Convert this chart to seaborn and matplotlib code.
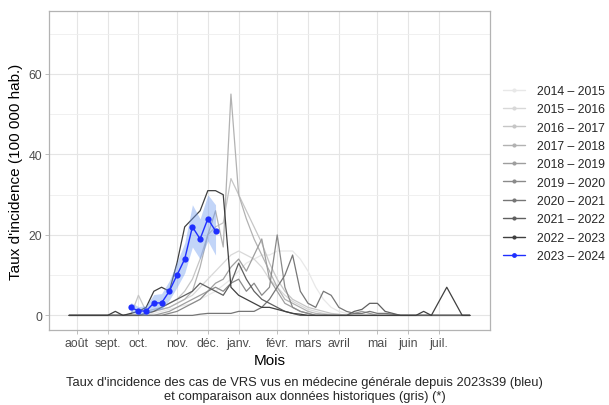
import numpy as np
import pandas as pd
import matplotlib
matplotlib.use("Agg")
import matplotlib.pyplot as plt
from matplotlib.lines import Line2D
import seaborn as sns

# semaines de la saison (0 = semaine 31)
weeks = list(range(53))

month_pos = [1, 5, 9, 14, 18, 22, 27, 31, 35, 40, 44, 48]
month_labels = ["août", "sept.", "oct.", "nov.", "déc.", "janv.", "févr.",
                "mars", "avril", "mai", "juin", "juil."]

seasons = ["2014 – 2015", "2015 – 2016", "2016 – 2017", "2017 – 2018", "2018 – 2019",
           "2019 – 2020", "2020 – 2021", "2021 – 2022", "2022 – 2023"]
grey_colors = ["#E8E8E8", "#D8D8D8", "#C6C6C6", "#B2B2B2", "#9E9E9E",
               "#8A8A8A", "#767676", "#606060", "#404040"]

s2014 = [0, 0, 0, 0, 0, 0, 0, 0, 0, 0, 0.3, 0.5, 1, 1.5, 2, 2.5, 3, 4, 5, 6, 7.5, 9, 11, 13,
         14, 15, 15, 16, 16, 16, 14, 11, 7, 4, 2, 1, 0.5, 0.3, 0, 0, 0, 0, 0, 0, 0, 0, 0,
         0, 0, 0, 0, 0, 0]
s2015 = [0, 0, 0, 0, 0, 0, 0, 0, 0, 0, 0.5, 1, 1.5, 2, 3, 4, 5, 7, 9, 11, 13, 15, 16, 15,
         14, 12, 9, 7, 5, 3.5, 2.5, 1.5, 1, 0.5, 0.3, 0, 0, 0, 0, 0, 0, 0, 0, 0, 0, 0, 0,
         0, 0, 0, 0, 0, 0]
s2016 = [0, 0, 0, 0, 0, 0, 0, 0, 0, 5, 1, 1.5, 2, 3, 4, 6, 9, 14, 20, 22, 23, 34, 30, 26,
         22, 18, 13, 9, 6, 4, 3, 2, 1.5, 1, 0.5, 0.3, 0, 0, 0, 0, 0, 0, 0, 0, 0, 0, 0,
         0, 0, 0, 0, 0, 0]
s2017 = [0, 0, 0, 0, 0, 0, 0, 0, 0, 0, 0.5, 1, 1.5, 2, 3, 4, 6, 12, 20, 26, 17, 55, 30, 24,
         19, 15, 11, 7, 4, 3, 2, 1, 0.5, 0.3, 0, 0, 0, 0, 0, 0, 0, 0, 0, 0, 0, 0, 0,
         0, 0, 0, 0, 0, 0]
s2018 = [0, 0, 0, 0, 0, 0, 0, 0, 0, 0, 0, 0, 0.5, 1, 2, 3, 4, 5, 6, 8, 9, 12, 14, 11,
         15, 19, 9, 6, 3, 2, 1, 0.5, 0, 0, 0, 0, 0, 0.5, 1, 0.5, 0, 0, 0, 0, 0, 0, 0,
         0, 0, 0, 0, 0, 0]
s2019 = [0, 0, 0, 0, 0, 0, 0, 0, 0, 0, 0, 0, 0, 0.5, 1, 2, 3, 4, 6, 7, 6, 8, 9, 6,
         8, 5, 7, 20, 7, 2, 1, 0.5, 0, 0, 0, 0, 0, 0, 0, 0, 0, 0, 0, 0, 0, 0, 0,
         0, 0, 0, 0, 0, 0]
s2020 = [0, 0, 0, 0, 0, 0, 0, 0, 0, 0, 0, 0, 0, 0, 0, 0, 0, 0.3, 0.5, 0.5, 0.5, 0.5, 1, 1,
         1, 2, 4, 7, 10, 15, 6, 3, 2, 6, 5, 2, 1, 0.5, 0.5, 1, 0.5, 0.5, 0.3, 0, 0, 0, 0,
         0, 0, 0, 0, 0, 0]
s2021 = [0, 0, 0, 0, 0, 0, 0, 0, 0, 0, 0.5, 1, 2, 3, 4, 5, 6, 8, 7, 6, 5, 8, 13, 9,
         6, 4, 3, 2, 1, 0.5, 0, 0, 0, 0, 0, 0, 0, 1, 1.5, 3, 3, 1, 0.5, 0, 0, 0, 0,
         0, 0, 0, 0, 0, 0]
s2022 = [0, 0, 0, 0, 0, 0, 1, 0, 0.5, 1, 2, 6, 7, 6, 13, 22, 24, 26, 31, 31, 30, 7, 5, 4,
         3, 2, 2, 1.5, 1, 0.5, 0.3, 0, 0, 0, 0, 0, 0, 0, 0, 0, 0, 0, 0, 0, 0, 0, 1,
         0, 3.5, 7, 3.5, 0, 0]
grey_series = [s2014, s2015, s2016, s2017, s2018, s2019, s2020, s2021, s2022]

# saison en cours 2023-2024 (depuis 2023s39)
cur_weeks = [8, 9, 10, 11, 12, 13, 14, 15, 16, 17, 18, 19]
cur_rate = [2.0, 1.1, 1.1, 3.1, 3.1, 6.0, 10.0, 14.0, 22.0, 19.0, 24.0, 21.0]
cur_low = [0.8, 0.2, 0.1, 1.4, 1.5, 3.8, 7.0, 10.5, 17.0, 14.0, 18.5, 15.0]
cur_high = [3.2, 2.2, 2.4, 5.2, 5.4, 8.6, 13.2, 18.0, 27.5, 24.0, 30.0, 27.5]

hist = pd.DataFrame({
    "semaine": np.tile(weeks, len(seasons)),
    "taux": np.concatenate(grey_series),
    "saison": np.repeat(seasons, len(weeks)),
})
cur = pd.DataFrame({"semaine": cur_weeks, "taux": cur_rate, "lo": cur_low, "hi": cur_high})

sns.set_theme(style="white")
plt.rcParams["font.family"] = ["Liberation Sans", "DejaVu Sans"]

fig = plt.figure(figsize=(6.09, 4.06), dpi=100)
ax = fig.add_axes([0.0805, 0.185, 0.724, 0.785])

sns.lineplot(data=hist, x="semaine", y="taux", hue="saison",
             palette=dict(zip(seasons, grey_colors)), hue_order=seasons,
             linewidth=0.9, legend=False, ax=ax, zorder=3)
ax.fill_between(cur["semaine"], cur["lo"], cur["hi"], color="#6F9BF0", alpha=0.42,
                linewidth=0, zorder=4)
sns.lineplot(data=cur, x="semaine", y="taux", color="#1F2FFF", linewidth=1.0,
             marker="o", markersize=4.5, markeredgewidth=0, ax=ax, zorder=5)

ax.set_xlim(-2.6, 54.6)
ax.set_ylim(-3.6, 75.6)
ax.set_xticks(month_pos)
ax.set_xticklabels(month_labels)
ax.set_yticks([0, 20, 40, 60])
ax.set_yticks([10, 30, 50, 70], minor=True)

ax.grid(True, which="major", color="#E5E5E5", linewidth=0.8, zorder=0)
ax.grid(True, which="minor", axis="y", color="#EEEEEE", linewidth=0.6, zorder=0)
ax.set_axisbelow(True)
for sp in ax.spines.values():
    sp.set_color("#B3B3B3")
    sp.set_linewidth(0.9)
ax.tick_params(axis="both", which="major", length=3, width=0.6, color="#B3B3B3",
               labelcolor="#4D4D4D", labelsize=8.8, pad=2, bottom=True, left=True)
ax.tick_params(axis="y", which="minor", length=0)

ax.set_xlabel("Mois", fontsize=11, color="black", labelpad=3)
ax.set_ylabel("Taux d'incidence (100 000 hab.)", fontsize=11, color="black", labelpad=4)

handles = [Line2D([], [], color=c, lw=1, marker="o", markersize=3, markeredgewidth=0)
           for c in grey_colors]
handles.append(Line2D([], [], color="#1F2FFF", lw=1, marker="o", markersize=3.5,
                      markeredgewidth=0))
fig.legend(handles, seasons + ["2023 – 2024"], loc="center left",
           bbox_to_anchor=(0.808, 0.57), frameon=False, fontsize=8.8,
           handlelength=1.8, handletextpad=1.0, labelspacing=0.52)

fig.text(0.5, 0.04, "Taux d'incidence des cas de VRS vus en médecine générale depuis 2023s39 (bleu)\n"
         "et comparaison aux données historiques (gris) (*)",
         ha="center", va="center", fontsize=9.3, linespacing=1.25)

fig.savefig("out.png", dpi=100)
